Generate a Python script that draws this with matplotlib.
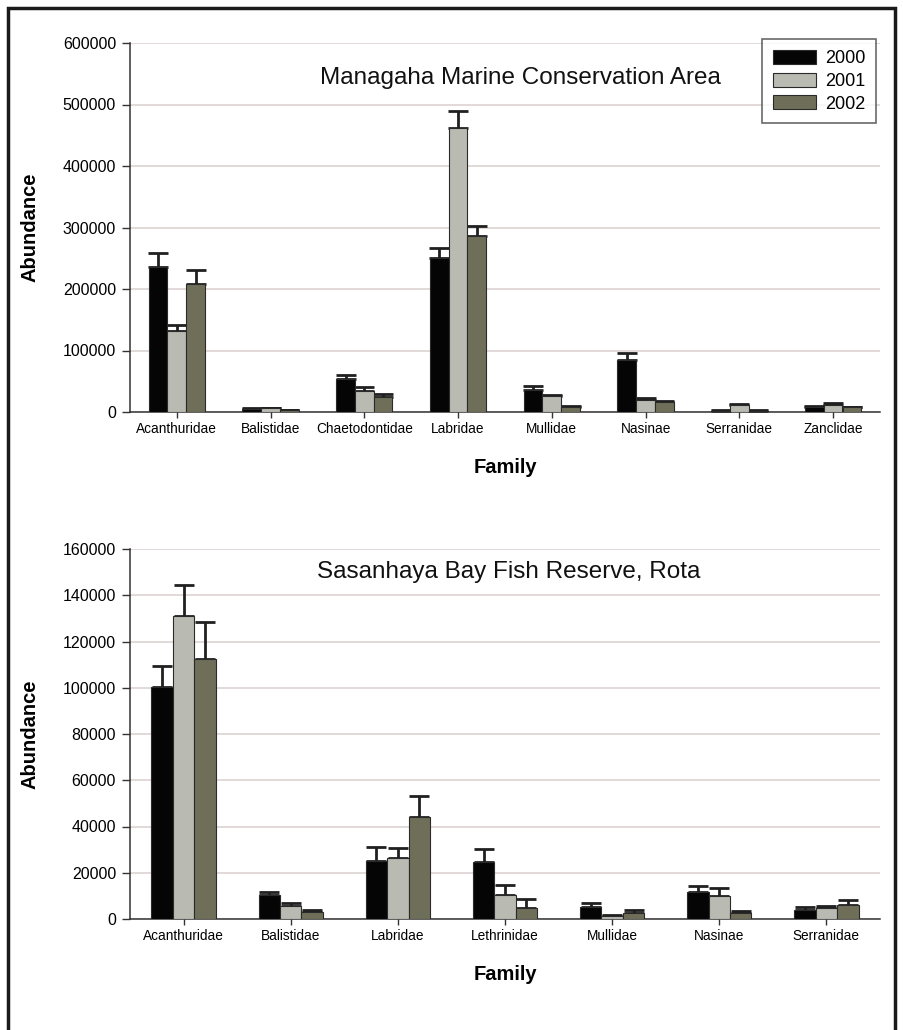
import numpy as np
import matplotlib
matplotlib.use("Agg")
import matplotlib.pyplot as plt
from matplotlib.patches import Rectangle

plt.rcParams['font.family'] = ['Liberation Sans', 'DejaVu Sans']

years = ['2000', '2001', '2002']
colors = ['#050505', '#b9bab2', '#6f6f59']

# Managaha Marine Conservation Area
fam_top = ['Acanthuridae', 'Balistidae', 'Chaetodontidae', 'Labridae',
           'Mullidae', 'Nasinae', 'Serranidae', 'Zanclidae']
top_2000 = [235000, 5000, 54000, 250000, 35000, 85000, 2000, 8700]
top_2001 = [131000, 6000, 34000, 461000, 26000, 19500, 11500, 12000]
top_2002 = [208000, 3000, 24000, 286000, 8700, 15700, 2000, 7600]
top_err_2000 = [23000, 1500, 6500, 16000, 6500, 11000, 500, 1000]
top_err_2001 = [11000, 1200, 7000, 29000, 2200, 3300, 2200, 2200]
top_err_2002 = [23000, 800, 5000, 16000, 1000, 2700, 500, 1000]

# Sasanhaya Bay Fish Reserve, Rota
fam_bot = ['Acanthuridae', 'Balistidae', 'Labridae', 'Lethrinidae',
           'Mullidae', 'Nasinae', 'Serranidae']
bot_2000 = [100500, 10300, 25000, 24700, 5300, 11700, 4100]
bot_2001 = [131000, 5800, 26500, 10500, 1300, 10100, 4600]
bot_2002 = [112500, 2900, 44000, 4700, 2400, 2400, 6200]
bot_err_2000 = [9000, 1300, 6000, 5700, 1700, 2600, 900]
bot_err_2001 = [13500, 1300, 4000, 4300, 400, 3500, 900]
bot_err_2002 = [16000, 900, 9000, 3800, 1300, 1200, 2200]

fig = plt.figure(figsize=(9.04, 10.30), dpi=100)
W, H = 904, 1030


def panel(rect, fams, vals, errs, ymax, step, title, title_xy, legend=False):
    ax = fig.add_axes(rect)
    x = np.arange(len(fams))
    w = 0.2
    for i, (v, e) in enumerate(zip(vals, errs)):
        pos = x + (i - 1) * w
        ax.bar(pos, v, width=w, color=colors[i], edgecolor='#2a2a2a',
               linewidth=0.8, label=years[i], zorder=3)
        ax.errorbar(pos, v, yerr=[np.zeros(len(e)), e], fmt='none',
                    ecolor='#202020', elinewidth=2.0, capsize=7,
                    capthick=2.0, zorder=2)
    ax.set_xlim(-0.5, len(fams) - 0.5)
    ax.set_ylim(0, ymax)
    ticks = np.arange(0, ymax + 1, step)
    ax.set_yticks(ticks)
    ax.set_yticklabels([f'{int(t)}' for t in ticks])
    ax.set_xticks(x)
    ax.set_xticklabels(fams, fontsize=9.8)
    ax.tick_params(axis='y', labelsize=11.5, length=6, width=1,
                   color='#333333', pad=4)
    ax.tick_params(axis='x', length=4, width=1, color='#333333', pad=3)
    ax.grid(axis='y', color='#d9d0cd', linewidth=1.1, zorder=0)
    ax.set_axisbelow(True)
    for s in ['top', 'right']:
        ax.spines[s].set_visible(False)
    for s in ['left', 'bottom']:
        ax.spines[s].set_color('#333333')
        ax.spines[s].set_linewidth(1.1)
    ax.set_ylabel('Abundance', fontsize=14.5, fontweight='bold', labelpad=17)
    ax.set_xlabel('Family', fontsize=14.5, fontweight='bold', labelpad=16)
    ax.text(title_xy[0], title_xy[1], title, transform=ax.transAxes,
            ha='center', va='center', fontsize=17.5, color='#111111')
    if legend:
        leg = ax.legend(loc='upper right', bbox_to_anchor=(0.995, 1.01),
                        borderaxespad=0, fontsize=13, frameon=True,
                        fancybox=False, handlelength=2.4, handleheight=0.8,
                        borderpad=0.6, labelspacing=0.3, handletextpad=0.5)
        leg.get_frame().set_edgecolor('#444444')
        leg.get_frame().set_linewidth(1.2)
    return ax


panel([130 / W, 1 - 412 / H, 750 / W, 369 / H], fam_top,
      [top_2000, top_2001, top_2002],
      [top_err_2000, top_err_2001, top_err_2002],
      600000, 100000, 'Managaha Marine Conservation Area', (0.52, 0.905),
      legend=True)

panel([130 / W, 1 - 919 / H, 750 / W, 370 / H], fam_bot,
      [bot_2000, bot_2001, bot_2002],
      [bot_err_2000, bot_err_2001, bot_err_2002],
      160000, 20000, 'Sasanhaya Bay Fish Reserve, Rota', (0.505, 0.938))

# outer frame (runs past the bottom edge)
fig.patches.append(Rectangle((8 / W, -10 / H), 887 / W, 1032 / H,
                             transform=fig.transFigure, fill=False,
                             edgecolor='#1a1a1a', linewidth=2.5))

fig.savefig('out.png', dpi=100, facecolor='white')
